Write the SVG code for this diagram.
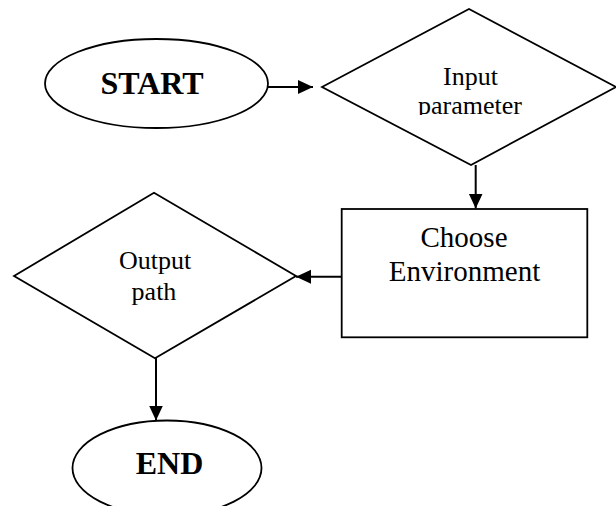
<svg xmlns="http://www.w3.org/2000/svg" width="616" height="506" viewBox="0 0 616 506">
<style>
.shape{fill:#fff;stroke:#000;stroke-width:1.8}
.conn{fill:none;stroke:#000;stroke-width:2}
.t{font-family:"Liberation Serif","Times New Roman",serif;fill:#000;text-anchor:middle}
.b{font-weight:bold;font-size:32px}
.n{font-size:26px}
.n29{font-size:29px}
</style>
<defs>
<marker id="ah" markerUnits="userSpaceOnUse" markerWidth="16" markerHeight="16" viewBox="0 0 16 16" refX="15" refY="8" orient="auto">
<path d="M0,1 L15,8 L0,15 Z" fill="#000"/>
</marker>
<clipPath id="clipIn"><rect x="300" y="0" width="316" height="115"/></clipPath>
</defs>
<rect width="616" height="506" fill="#fff"/>
<g id="connectors">
<line class="conn" x1="268" y1="87" x2="313" y2="87" marker-end="url(#ah)"/>
<line class="conn" x1="475.7" y1="165" x2="475.7" y2="208.5" marker-end="url(#ah)"/>
<line class="conn" x1="341.7" y1="276.7" x2="296" y2="276.7" marker-end="url(#ah)"/>
<line class="conn" x1="156" y1="358" x2="156" y2="420.5" marker-end="url(#ah)"/>
</g>
<g id="start">
<ellipse class="shape" cx="156.5" cy="83.5" rx="111.5" ry="44.5"/>
<text class="t b" x="152" y="94">START</text>
</g>
<g id="input">
<polygon class="shape" points="322,87 469,9 616,87 471,165"/>
<g clip-path="url(#clipIn)">
<text class="t n" x="470.5" y="85">Input</text>
<text class="t n" x="470" y="114">parameter</text>
</g>
</g>
<g id="choose">
<rect class="shape" x="341.7" y="209" width="245.6" height="128.3"/>
<text class="t n29" x="464" y="247">Choose</text>
<text class="t n29" x="464.5" y="281">Environment</text>
</g>
<g id="output">
<polygon class="shape" points="14,276 154,192.7 296,276 155,358.3"/>
<text class="t n" x="155" y="269">Output</text>
<text class="t n" x="154" y="300">path</text>
</g>
<g id="end">
<ellipse class="shape" cx="167" cy="468" rx="94.5" ry="47.5"/>
<text class="t b" x="169.5" y="474">END</text>
</g>
</svg>
